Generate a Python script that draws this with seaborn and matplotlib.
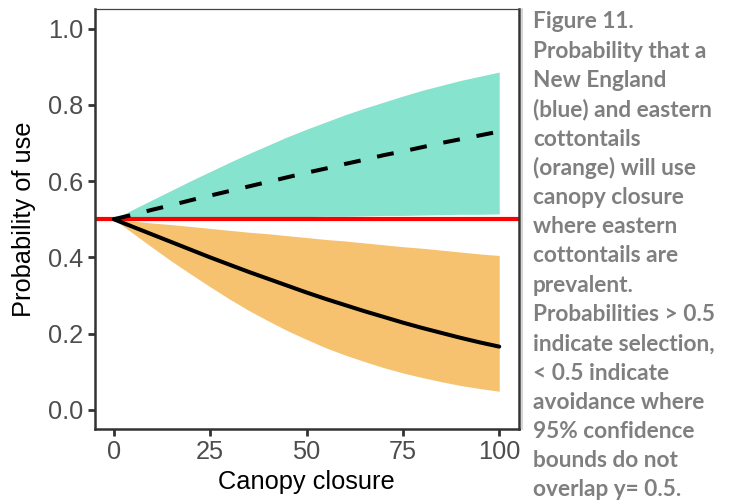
import numpy as np
import pandas as pd
import matplotlib
matplotlib.use("Agg")
import matplotlib.pyplot as plt
import seaborn as sns
from matplotlib.lines import Line2D

# ---- data ----
canopy = [0, 5, 10, 15, 20, 25, 30, 35, 40, 45, 50,
          55, 60, 65, 70, 75, 80, 85, 90, 95, 100]
ne_mean = [0.500, 0.512, 0.525, 0.537, 0.550, 0.562, 0.574, 0.586, 0.598, 0.610, 0.622,
           0.633, 0.645, 0.656, 0.668, 0.678, 0.689, 0.700, 0.710, 0.720, 0.730]
ne_upper = [0.500, 0.526, 0.551, 0.576, 0.601, 0.625, 0.649, 0.672, 0.694, 0.716, 0.736,
            0.755, 0.774, 0.791, 0.807, 0.823, 0.838, 0.851, 0.864, 0.875, 0.886]
ne_lower = [0.500, 0.500, 0.501, 0.502, 0.503, 0.503, 0.504, 0.505, 0.506, 0.506, 0.507,
            0.508, 0.508, 0.509, 0.510, 0.510, 0.511, 0.512, 0.513, 0.513, 0.514]
ec_mean = [0.500, 0.480, 0.460, 0.440, 0.420, 0.400, 0.381, 0.362, 0.344, 0.326, 0.308,
           0.291, 0.275, 0.259, 0.244, 0.229, 0.215, 0.202, 0.189, 0.177, 0.166]
ec_upper = [0.500, 0.495, 0.490, 0.486, 0.481, 0.476, 0.471, 0.466, 0.462, 0.457, 0.452,
            0.447, 0.443, 0.438, 0.433, 0.428, 0.424, 0.419, 0.414, 0.409, 0.405]
ec_lower = [0.500, 0.463, 0.426, 0.390, 0.356, 0.323, 0.291, 0.261, 0.234, 0.208, 0.185,
            0.163, 0.144, 0.127, 0.111, 0.097, 0.085, 0.074, 0.064, 0.056, 0.049]
ref_line = 0.5
x_ticks = [0, 25, 50, 75, 100]
y_ticks = [0.0, 0.2, 0.4, 0.6, 0.8, 1.0]
caption_lines = [
    "Figure 11.",
    "Probability that a",
    "New England",
    "(blue) and eastern",
    "cottontails",
    "(orange) will use",
    "canopy closure",
    "where eastern",
    "cottontails are",
    "prevalent.",
    "Probabilities > 0.5",
    "indicate selection,",
    "< 0.5 indicate",
    "avoidance where",
    "95% confidence",
    "bounds do not",
    "overlap y= 0.5.",
]

df = pd.DataFrame({"x": canopy, "ne_mean": ne_mean, "ne_upper": ne_upper,
                   "ne_lower": ne_lower, "ec_mean": ec_mean,
                   "ec_upper": ec_upper, "ec_lower": ec_lower})

sns.set_theme(style="white")
plt.rcParams["font.family"] = ["Liberation Sans", "DejaVu Sans"]

W, H = 733, 504
fig = plt.figure(figsize=(W / 100, H / 100), dpi=100)
L, R, T, B = 94.5, 518.5, 9.5, 429
ax = fig.add_axes([L / W, 1 - B / H, (R - L) / W, (B - T) / H])

teal = "#86E3CE"
orange = "#F6C270"

ax.fill_between(df["x"], df["ne_lower"], df["ne_upper"], color=teal, lw=0, zorder=1)
ax.fill_between(df["x"], df["ec_lower"], df["ec_upper"], color=orange, lw=0, zorder=1)
ax.axhline(ref_line, color="#FF0000", lw=3.0, zorder=2)
sns.lineplot(data=df, x="x", y="ne_mean", ax=ax, color="black", lw=2.9,
             linestyle=(0, (4.2, 4.2)), zorder=3)
sns.lineplot(data=df, x="x", y="ec_mean", ax=ax, color="black", lw=2.9, zorder=3)

ax.set_xlim(-5, 105)
ax.set_ylim(-0.05, 1.05)
ax.set_xticks(x_ticks)
ax.set_xticklabels([str(t) for t in x_ticks])
ax.set_yticks(y_ticks)
ax.set_yticklabels([f"{t:.1f}" for t in y_ticks])
ax.tick_params(axis="both", which="major", direction="out", length=5, width=2,
               color="#333333", labelcolor="#4D4D4D", labelsize=18.3, pad=3,
               bottom=True, left=True)
ax.set_xlabel("Canopy closure", fontsize=18.3, color="black", labelpad=4)
ax.set_ylabel("Probability of use", fontsize=18.3, color="black", labelpad=9)

for side in ["left", "bottom", "right"]:
    ax.spines[side].set_color("#333333")
    ax.spines[side].set_linewidth(1.8)
ax.spines["top"].set_color("#444444")
ax.spines["top"].set_linewidth(0.9)

fig.add_artist(Line2D([521.5 / W, 521.5 / W], [1 - 9 / H, 1 - 429 / H],
                      color="#D5D5D5", lw=1.5, transform=fig.transFigure))

y0, dy = 22, 29.25
for i, line in enumerate(caption_lines):
    fig.text(533 / W, 1 - (y0 + i * dy) / H, line, fontsize=16.3,
             fontweight="bold", color="#7F7F7F", ha="left", va="center",
             family=["Lato", "DejaVu Sans"])

fig.savefig("out.png", dpi=100)
